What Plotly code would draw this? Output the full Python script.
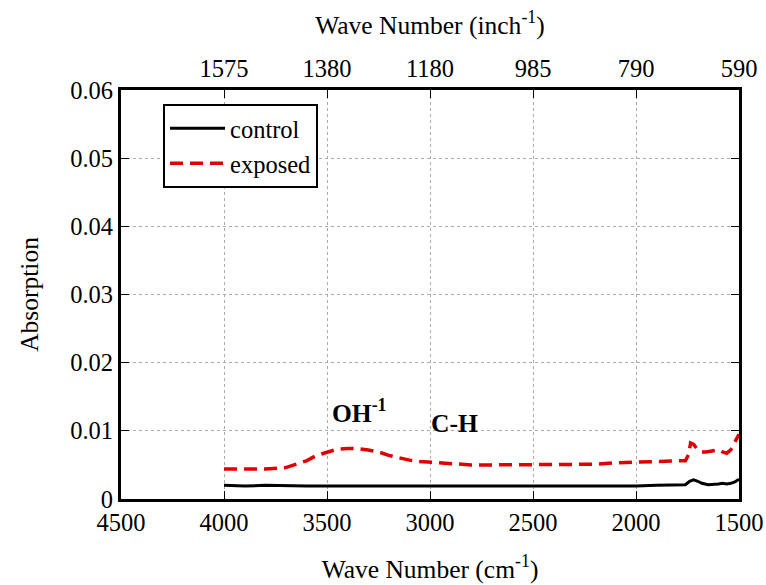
import plotly.graph_objects as go

# ---- data ----
control_x = [4000, 3900, 3800, 3700, 3600, 3500, 3400, 3300, 3200, 3100, 3000, 2900, 2800, 2700,
             2600, 2500, 2400, 2300, 2200, 2100, 2000, 1900, 1800, 1760, 1740, 1720, 1700, 1680,
             1650, 1620, 1600, 1580, 1560, 1540, 1520, 1500]
control_y = [0.0020, 0.0019, 0.0020, 0.0019, 0.0019, 0.0019, 0.0019, 0.0018, 0.0019, 0.0019,
             0.0019, 0.0019, 0.0019, 0.0019, 0.0019, 0.0019, 0.0019, 0.0019, 0.0019, 0.0019,
             0.0019, 0.0020, 0.0020, 0.0021, 0.0026, 0.0028, 0.0026, 0.0023, 0.0021, 0.0021,
             0.0022, 0.0023, 0.0022, 0.0023, 0.0025, 0.0029]

exposed_x = [4000, 3900, 3800, 3700, 3600, 3550, 3500, 3450, 3400, 3350, 3300, 3250, 3200, 3150,
             3100, 3050, 3000, 2900, 2800, 2700, 2600, 2500, 2400, 2300, 2200, 2100, 2000, 1900,
             1800, 1760, 1745, 1735, 1720, 1700, 1680, 1660, 1640, 1620, 1600, 1580, 1560, 1540,
             1520, 1500]
exposed_y = [0.0044, 0.0044, 0.0044, 0.0046, 0.0056, 0.0064, 0.0069, 0.0073, 0.0074, 0.0074,
             0.0072, 0.0069, 0.0064, 0.0060, 0.0057, 0.0055, 0.0054, 0.0052, 0.0050, 0.0050,
             0.0050, 0.0050, 0.0050, 0.0051, 0.0051, 0.0053, 0.0054, 0.0056, 0.0056, 0.0056,
             0.0065, 0.0082, 0.0080, 0.0072, 0.0069, 0.0069, 0.0070, 0.0071, 0.0072, 0.0069,
             0.0067, 0.0072, 0.0085, 0.0095]

bottom_ticks = [4500, 4000, 3500, 3000, 2500, 2000, 1500]
top_tick_pos = [4000, 3500, 3000, 2500, 2000, 1500]
top_tick_text = ["1575", "1380", "1180", "985", "790", "590"]
y_ticks = [0, 0.01, 0.02, 0.03, 0.04, 0.05, 0.06]
y_tick_text = ["0", "0.01", "0.02", "0.03", "0.04", "0.05", "0.06"]

FONT = "Liberation Serif, Times New Roman, serif"
FS = 25.5
TFS = 24.5

fig = go.Figure()
fig.add_trace(go.Scatter(x=control_x, y=control_y, mode="lines", name="control",
                         line=dict(color="black", width=3)))
fig.add_trace(go.Scatter(x=exposed_x, y=exposed_y, mode="lines", name="exposed",
                         line=dict(color="#e00000", width=3.5, dash="13px,7px")))
# invisible trace to activate the top axis
fig.add_trace(go.Scatter(x=[4500, 1500], y=[0, 0], xaxis="x2", mode="lines",
                         line=dict(width=0), showlegend=False, hoverinfo="skip"))

fig.update_layout(
    width=766, height=585,
    margin=dict(l=121, r=27, t=90, b=86),
    paper_bgcolor="white", plot_bgcolor="white",
    font=dict(family=FONT, size=FS, color="black"),
    xaxis=dict(range=[4500, 1500], tickmode="array", tickvals=bottom_ticks,
               ticktext=[str(t) for t in bottom_ticks], automargin=False,
               showline=True, linecolor="black", linewidth=3, mirror=False,
               ticks="inside", ticklen=8, tickwidth=1, tickcolor="black",
               tickfont=dict(family=FONT, size=TFS),
               showgrid=True, gridcolor="#aaaaaa", griddash="dot", gridwidth=1,
               zeroline=False,
               title=dict(text="Wave Number (cm<sup>-1</sup>)", font=dict(family=FONT, size=FS),
                          standoff=25)),
    xaxis2=dict(range=[4500, 1500], overlaying="x", side="top", tickmode="array",
                tickvals=top_tick_pos, ticktext=top_tick_text, automargin=False,
                showline=True, linecolor="black", linewidth=3,
                ticks="inside", ticklen=8, tickwidth=1, tickcolor="black",
                tickfont=dict(family=FONT, size=TFS),
                showgrid=False, zeroline=False,
                title=dict(text="Wave Number (inch<sup>-1</sup>)", font=dict(family=FONT, size=FS),
                           standoff=14)),
    yaxis=dict(range=[0, 0.06], tickmode="array", tickvals=y_ticks, ticktext=y_tick_text,
               automargin=False,
               showline=True, linecolor="black", linewidth=3, mirror="ticks",
               ticks="inside", ticklen=8, tickwidth=1, tickcolor="black",
               tickfont=dict(family=FONT, size=TFS),
               showgrid=True, gridcolor="#aaaaaa", griddash="dot", gridwidth=1,
               zeroline=False,
               title=dict(text="Absorption", font=dict(family=FONT, size=FS), standoff=25)),
    legend=dict(x=0.068, y=0.966, xanchor="left", yanchor="top",
                bgcolor="white", bordercolor="black", borderwidth=2,
                font=dict(family=FONT, size=24.5), tracegroupgap=0, itemwidth=55),
    showlegend=True,
)

fig.add_annotation(x=3340, y=0.0128, text="<b>OH<sup>-1</sup></b>", showarrow=False,
                   font=dict(family=FONT, size=FS, color="black"))
fig.add_annotation(x=2880, y=0.0111, text="<b>C-H</b>", showarrow=False,
                   font=dict(family=FONT, size=FS, color="black"))

fig.write_html("out.html")
